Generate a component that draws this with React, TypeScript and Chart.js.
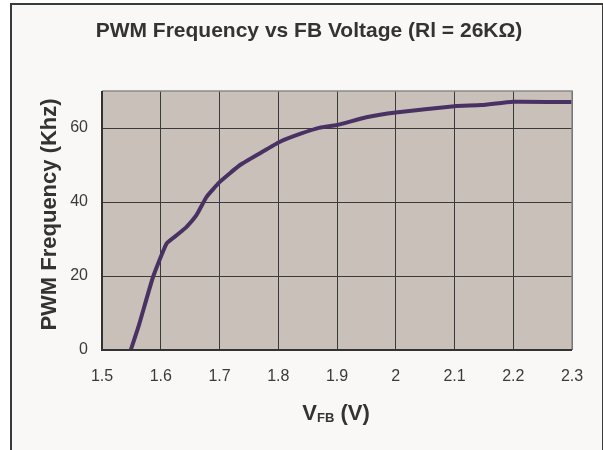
import React, { useEffect, useRef } from "react";
import { Chart, registerables } from "chart.js";

Chart.register(...registerables);

const voltages = [1.549, 1.563, 1.587, 1.61, 1.627, 1.644, 1.661, 1.678, 1.701, 1.735, 1.769, 1.803, 1.837, 1.871, 1.9, 1.95, 2.0, 2.1, 2.146, 2.2, 2.3];
const frequencies = [0, 6.8, 19.8, 28.8, 31, 33.3, 36.5, 41.4, 45.5, 50, 53.2, 56.3, 58.4, 60.1, 60.8, 62.9, 64.2, 65.9, 66.2, 67.1, 67];
const xTicks = [1.5, 1.6, 1.7, 1.8, 1.9, 2.0, 2.1, 2.2, 2.3];
const yTicks = [0, 20, 40, 60];
const titleText = "PWM Frequency vs FB Voltage (Rl = 26KΩ)";
const yTitle = "PWM Frequency (Khz)";
const xTitleMain = "V";
const xTitleSub = "FB";
const xTitleRest = " (V)";

const FONT = "'Liberation Sans', Arial, sans-serif";

const decorPlugin = {
  id: "decor",
  beforeDraw(chart: any) {
    const { ctx, chartArea } = chart;
    ctx.save();
    ctx.fillStyle = "#c9c0ba";
    ctx.fillRect(chartArea.left, chartArea.top, chartArea.right - chartArea.left, chartArea.bottom - chartArea.top);
    ctx.restore();
  },
  afterDatasetsDraw(chart: any) {
    const { ctx, chartArea } = chart;
    ctx.save();
    ctx.strokeStyle = "#8a8a8a";
    ctx.lineWidth = 1.5;
    ctx.beginPath();
    ctx.moveTo(chartArea.left, chartArea.top);
    ctx.lineTo(chartArea.right, chartArea.top);
    ctx.lineTo(chartArea.right, chartArea.bottom);
    ctx.stroke();
    ctx.strokeStyle = "#333";
    ctx.lineWidth = 2;
    ctx.beginPath();
    ctx.moveTo(chartArea.left, chartArea.top);
    ctx.lineTo(chartArea.left, chartArea.bottom);
    ctx.lineTo(chartArea.right, chartArea.bottom);
    ctx.stroke();
    ctx.restore();
  },
  afterDraw(chart: any) {
    const { ctx, chartArea } = chart;
    ctx.save();
    ctx.fillStyle = "#333";
    ctx.textBaseline = "alphabetic";
    ctx.textAlign = "center";
    ctx.font = `bold 21px ${FONT}`;
    ctx.fillText(titleText, 309, 37);

    ctx.save();
    ctx.translate(56, 214.5);
    ctx.rotate(-Math.PI / 2);
    ctx.font = `bold 22px ${FONT}`;
    ctx.fillText(yTitle, 0, 0);
    ctx.restore();

    ctx.textAlign = "left";
    const bigFont = `bold 22px ${FONT}`;
    const subFont = `bold 13px ${FONT}`;
    ctx.font = bigFont;
    const w1 = ctx.measureText(xTitleMain).width;
    const w3 = ctx.measureText(xTitleRest).width;
    ctx.font = subFont;
    const w2 = ctx.measureText(xTitleSub).width;
    const total = w1 + w2 + w3;
    let x = 336 - total / 2;
    const base = 420;
    ctx.font = bigFont;
    ctx.fillText(xTitleMain, x, base);
    x += w1;
    ctx.font = subFont;
    ctx.fillText(xTitleSub, x, base + 1.5);
    x += w2;
    ctx.font = bigFont;
    ctx.fillText(xTitleRest, x, base);
    ctx.restore();
  },
};

export default function App() {
  const ref = useRef<HTMLCanvasElement | null>(null);
  useEffect(() => {
    if (!ref.current) return;
    const chart = new Chart(ref.current, {
      type: "line",
      data: {
        datasets: [
          {
            data: voltages.map((v, i) => ({ x: v, y: frequencies[i] })),
            borderColor: "#4a3163",
            borderWidth: 4,
            pointRadius: 0,
            tension: 0.15,
            fill: false,
          },
        ],
      },
      options: {
        animation: false,
        responsive: false,
        layout: { padding: { top: 91, right: 31, left: 0, bottom: 0 } },
        plugins: { legend: { display: false }, tooltip: { enabled: false } },
        scales: {
          x: {
            type: "linear",
            min: 1.5,
            max: 2.3,
            afterBuildTicks: (s: any) => {
              s.ticks = xTicks.map((v) => ({ value: v }));
            },
            afterFit: (s: any) => {
              s.height = 100;
            },
            grid: { color: "#3a3a3a", lineWidth: 1, drawTicks: false },
            border: { display: false },
            ticks: {
              padding: 17,
              color: "#3a3a3a",
              font: { family: FONT, size: 16 },
              callback: (v: any) => String(parseFloat(Number(v).toFixed(1))),
              maxRotation: 0,
            },
          },
          y: {
            type: "linear",
            min: 0,
            max: 70,
            afterBuildTicks: (s: any) => {
              s.ticks = yTicks.map((v) => ({ value: v }));
            },
            afterFit: (s: any) => {
              s.width = 102;
            },
            grid: { color: "#3a3a3a", lineWidth: 1, drawTicks: false },
            border: { display: false },
            ticks: {
              padding: 14,
              color: "#3a3a3a",
              font: { family: FONT, size: 16 },
            },
          },
        },
      },
      plugins: [decorPlugin],
    });
    return () => chart.destroy();
  }, []);

  return (
    <div style={{ position: "fixed", left: 0, top: 0, width: 603, height: 450, background: "#ffffff", overflow: "hidden" }}>
      <div
        style={{
          position: "absolute",
          left: 10,
          top: 3,
          width: 590,
          height: 470,
          border: "2px solid #3a3a3a",
          background: "#f9f8f6",
        }}
      />
      <canvas ref={ref} width={603} height={450} style={{ position: "absolute", left: 0, top: 0 }} />
    </div>
  );
}
